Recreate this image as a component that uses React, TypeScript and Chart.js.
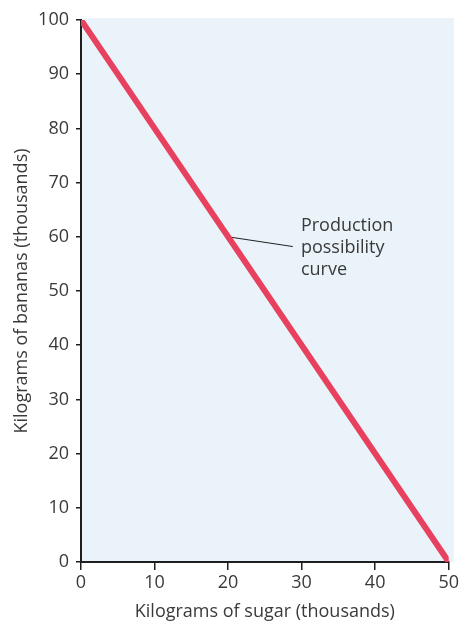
import React, { useEffect, useRef } from "react";
import { Chart, registerables } from "chart.js";

Chart.register(...registerables);

// ---- data ----
const sugar = [0, 50];
const bananas = [100, 0];
const xTicks = [0, 10, 20, 30, 40, 50];
const yTicks = [0, 10, 20, 30, 40, 50, 60, 70, 80, 90, 100];
const xTitle = "Kilograms of sugar (thousands)";
const yTitle = "Kilograms of bananas (thousands)";
const labelLines = ["Production", "possibility", "curve"];
const leaderX = [20, 28.8];
const leaderY = [60, 58.2];
const labelAt = [29.9, 61.1];

const FONT = '"Open Sans", "DejaVu Sans", sans-serif';
const TEXT = "#3a3a3a";
const AXIS = "#1e1e1e";

const bgPlugin = {
  id: "bg",
  beforeDraw(chart: any) {
    const { ctx, chartArea } = chart;
    ctx.save();
    ctx.fillStyle = "#e9f3f9";
    ctx.fillRect(chartArea.left, chartArea.top - 2, chartArea.right - chartArea.left + 5, chartArea.bottom - chartArea.top + 2);
    ctx.restore();
  },
};

const labelPlugin = {
  id: "ppcLabel",
  afterDatasetsDraw(chart: any) {
    const { ctx, scales } = chart;
    const x = scales.x.getPixelForValue(labelAt[0]);
    const y = scales.y.getPixelForValue(labelAt[1]);
    ctx.save();
    ctx.font = `18px ${FONT}`;
    ctx.fillStyle = TEXT;
    ctx.textAlign = "left";
    ctx.textBaseline = "alphabetic";
    labelLines.forEach((t, i) => ctx.fillText(t, x, y + i * 22));
    ctx.restore();
  },
};

export default function App() {
  const ref = useRef<HTMLCanvasElement>(null);
  useEffect(() => {
    document.body.style.margin = "0";
    const chart = new Chart(ref.current as HTMLCanvasElement, {
      type: "line",
      data: {
        datasets: [
          {
            data: sugar.map((s, i) => ({ x: s, y: bananas[i] })),
            borderColor: "#e8415f",
            borderWidth: 6,
            pointRadius: 0,
            tension: 0,
          },
          {
            data: leaderX.map((s, i) => ({ x: s, y: leaderY[i] })),
            borderColor: "#222",
            borderWidth: 1,
            pointRadius: 0,
            tension: 0,
          },
        ],
      },
      options: {
        responsive: false,
        animation: false,
        layout: { padding: { top: 20, right: 10, left: 0, bottom: 0 } },
        plugins: { legend: { display: false }, tooltip: { enabled: false } },
        scales: {
          x: {
            type: "linear",
            min: 0,
            max: 50,
            afterBuildTicks: (s: any) => {
              s.ticks = xTicks.map((v) => ({ value: v }));
            },
            afterFit: (s: any) => {
              s.height = 61;
            },
            grid: { drawOnChartArea: false, drawTicks: true, tickLength: 8, color: AXIS, lineWidth: 1.5 },
            border: { display: true, color: AXIS, width: 2 },
            ticks: { color: TEXT, font: { family: FONT, size: 18 }, padding: 2, maxRotation: 0 },
            title: { display: true, text: xTitle, color: TEXT, font: { family: FONT, size: 18 }, padding: { top: 0, bottom: 0 } },
          },
          y: {
            type: "linear",
            min: 0,
            max: 100,
            afterBuildTicks: (s: any) => {
              s.ticks = yTicks.map((v) => ({ value: v }));
            },
            afterFit: (s: any) => {
              s.width = 81;
            },
            grid: { drawOnChartArea: false, drawTicks: true, tickLength: 5, color: AXIS, lineWidth: 1.5 },
            border: { display: true, color: AXIS, width: 2 },
            ticks: { color: TEXT, font: { family: FONT, size: 18 }, padding: 7 },
            title: { display: true, text: yTitle, color: TEXT, font: { family: FONT, size: 18 }, padding: { top: 11, bottom: 0 } },
          },
        },
      },
      plugins: [bgPlugin, labelPlugin],
    });
    return () => chart.destroy();
  }, []);
  return <canvas ref={ref} width={461} height={623} style={{ display: "block" }} />;
}
